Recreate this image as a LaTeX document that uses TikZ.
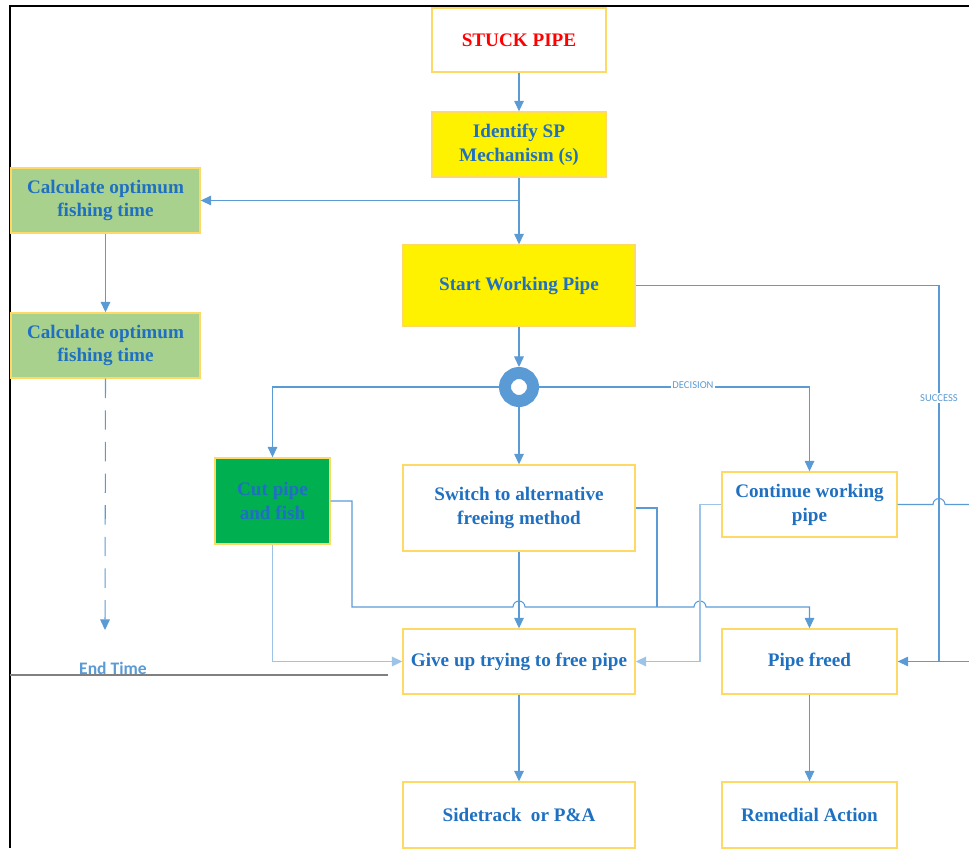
\documentclass[tikz,border=0pt]{standalone}
\usepackage{fontspec}
\setmainfont{Liberation Serif}
\newfontfamily\labelfont{Carlito}
\usetikzlibrary{arrows.meta}
\usepackage{xcolor}
\definecolor{flowblue}{HTML}{5B9BD5}
\definecolor{flowlight}{HTML}{9DC3E6}
\definecolor{textblue}{HTML}{1F70C1}
\definecolor{boxgold}{HTML}{FFD966}
\definecolor{lightgreen}{HTML}{A9D18E}
\definecolor{darkgreen}{HTML}{00B050}
\tikzset{
  box/.style={draw=boxgold, line width=0.8pt, align=center, inner sep=2pt,
    font=\bfseries\fontsize{10.9}{13.6}\selectfont, text=textblue},
  flow/.style={draw=flowblue, line width=0.6pt, -{Triangle[length=6pt,width=5.5pt]}},
  flowlt/.style={flow, draw=flowlight, line width=0.8pt},
  link/.style={draw=flowblue, line width=0.6pt},
  tag/.style={font=\labelfont\fontsize{6}{7}\selectfont, text=flowblue, fill=white, inner sep=1pt}
}

\begin{document}
\begin{tikzpicture}[x=0.02cm, y=-0.02cm]
        \useasboundingbox (0,0) rectangle (969,848);
        % frame
        \draw[line width=1.2pt] (969,6) -- (10,6) -- (10,848);
        % boxes
        \node[box, text=red, minimum width=3.48cm, minimum height=1.28cm] (stuck) at (519,40) {STUCK PIPE};
        \node[box, fill=yellow, minimum width=3.48cm, minimum height=1.3cm] (identify) at (519,144.5) {Identify SP\\Mechanism (s)};
        \node[box, fill=lightgreen, minimum width=3.78cm, minimum height=1.3cm] (calcA) at (105.5,200.5) {Calculate optimum\\fishing time};
        \node[box, fill=yellow, minimum width=4.64cm, minimum height=1.62cm] (start) at (519,285.5) {Start Working Pipe};
        \node[box, fill=lightgreen, minimum width=3.78cm, minimum height=1.3cm] (calcB) at (105.5,345.5) {Calculate optimum\\fishing time};
        \node[circle, draw=flowblue, line width=0.24cm, fill=white, minimum size=0.56cm, inner sep=0pt] (dec) at (519,387) {};
        \node[box, fill=darkgreen, minimum width=2.3cm, minimum height=1.72cm] (cut) at (272.5,501) {Cut pipe\\and fish};
        \node[box, minimum width=4.64cm, minimum height=1.72cm] (switch) at (519,508) {Switch to alternative\\freeing method};
        \node[box, minimum width=3.5cm, minimum height=1.3cm] (cont) at (809.5,504.5) {Continue working\\pipe};
        \node[box, minimum width=4.64cm, minimum height=1.3cm] (giveup) at (519,661.5) {Give up trying to free pipe};
        \node[box, minimum width=3.5cm, minimum height=1.3cm] (freed) at (809.5,661.5) {Pipe freed};
        \node[box, minimum width=4.64cm, minimum height=1.32cm] (side) at (519,815) {Sidetrack~ or P\&A};
        \node[box, minimum width=3.5cm, minimum height=1.32cm] (remedial) at (809.5,815) {Remedial Action};
        \node[font=\labelfont\bfseries\fontsize{10}{12}\selectfont, text=flowblue] (endtime) at (113,668) {End Time};
        \coordinate (endarr) at (105,630);
        \coordinate (cout) at (969,504.5);
        \coordinate (rin) at (969,661.5);
        % connectors
        \draw[flow] (stuck) -- (identify);
        \draw[flow] (identify) -- (start);
        \draw[flow] (identify.south |- calcA.east) -- (calcA.east);
        \draw[flow] (calcA) -- (calcB);
        \draw[flow, dash pattern=on 11pt off 7pt] (calcB.south) -- (endarr);
        \draw[flow] (start) -- (dec);
        \draw[flow] (dec.west) -| (cut.north);
        \draw[flow] (dec) -- (switch);
        \draw[flow] (dec.east) -| (cont.north);
        \node[tag] (declabel) at (693,385) {DECISION};
        \draw[flow] (start.east) -- (939,285.5) |- (freed.east);
        \node[tag] (suclabel) at (939,398) {SUCCESS};
        \draw[link] (rin) -- (freed.east);
        \draw[link] (cont.east) -- (933,504.5) arc[start angle=180, end angle=0, radius=3.41pt] -- (cout);
        \draw[flow] (cut.east) -- (352,501) -- (352,607) -- (513,607)
            arc[start angle=180, end angle=0, radius=3.41pt] -- (694,607)
            arc[start angle=180, end angle=0, radius=3.41pt] -- (freed.north |- 0,607) -- (freed.north);
        \draw[link] (switch.east) -- (657,508) -- (657,607);
        \draw[flowlt] (cont.west) -- (700,504.5) |- (giveup.east);
        \draw[flowlt] (cut.south) |- (giveup.west);
        \draw[flow] (switch) -- (giveup);
        \draw[flow] (giveup) -- (side);
        \draw[flow] (freed) -- (remedial);
        % end time line
        \draw[gray, line width=1.2pt] (10,675) -- (388,675);
    \end{tikzpicture}
\end{document}
